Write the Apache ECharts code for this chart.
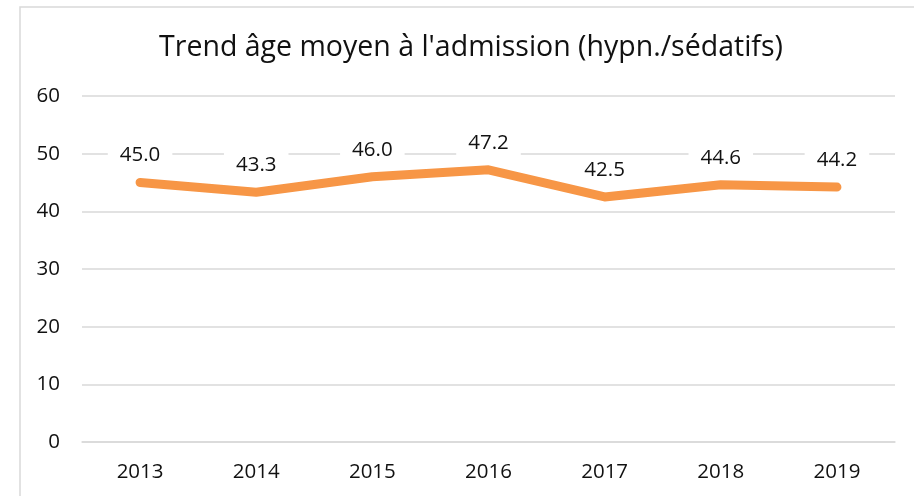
<!DOCTYPE html>
<html>
<head>
<meta charset="utf-8">
<script src="https://cdn.jsdelivr.net/npm/echarts@6/dist/echarts.min.js"></script>
<style>
html,body{margin:0;padding:0;background:#fff;}
#c{width:914px;height:496px;}
</style>
</head>
<body>
<div id="c"></div>
<script>
const titleText = "Trend âge moyen à l'admission (hypn./sédatifs)";
const years = ['2013','2014','2015','2016','2017','2018','2019'];
const avgAge = [45.0, 43.3, 46.0, 47.2, 42.5, 44.6, 44.2];
const yTicks = [0, 10, 20, 30, 40, 50, 60];

const FONT = '"Open Sans", sans-serif';
const chart = echarts.init(document.getElementById('c'), null, {renderer: 'canvas'});
chart.setOption({
  animation: false,
  backgroundColor: '#fff',
  graphic: [{
    type: 'rect', silent: true, z: -1,
    shape: {x: 20, y: 7, width: 920, height: 520},
    style: {fill: 'none', stroke: '#d9d9d9', lineWidth: 1.5}
  }],
  title: {
    text: titleText,
    left: 466, top: 28, textAlign: 'center',
    textStyle: {fontFamily: FONT, fontSize: 28.5, fontWeight: 'normal', color: '#111'}
  },
  grid: {left: 82, right: 19, top: 96, bottom: 54, containLabel: false},
  xAxis: {
    type: 'category', data: years, boundaryGap: true,
    axisLine: {lineStyle: {color: '#d9d9d9', width: 1.5}},
    axisTick: {show: false},
    axisLabel: {fontFamily: FONT, fontSize: 20.5, color: '#111', margin: 20}
  },
  yAxis: {
    type: 'value', min: yTicks[0], max: yTicks[yTicks.length - 1], interval: 10,
    axisLine: {show: false}, axisTick: {show: false},
    splitLine: {lineStyle: {color: '#d9d9d9', width: 1.5}},
    axisLabel: {fontFamily: FONT, fontSize: 20.5, color: '#111', margin: 22}
  },
  series: [{
    type: 'line', data: avgAge, symbol: 'circle', symbolSize: 1, showSymbol: true,
    lineStyle: {color: '#F79646', width: 9, cap: 'round', join: 'round'},
    itemStyle: {color: '#F79646'},
    label: {
      show: true, position: 'top', distance: 14,
      formatter: p => p.value.toFixed(1),
      fontFamily: FONT, fontSize: 20.5, color: '#111',
      backgroundColor: '#fff', padding: [2, 12]
    }
  }]
});
</script>
</body>
</html>
